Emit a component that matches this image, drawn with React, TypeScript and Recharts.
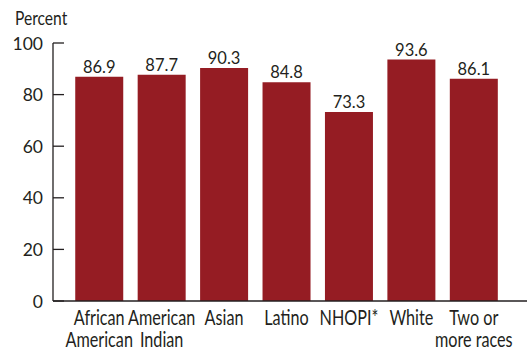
import React from 'react';
import { BarChart, Bar, XAxis, YAxis, LabelList } from 'recharts';

const categories = ['African\nAmerican', 'American\nIndian', 'Asian', 'Latino', 'NHOPI*', 'White', 'Two or\nmore races'];
const percents = [86.9, 87.7, 90.3, 84.8, 73.3, 93.6, 86.1];
const yTicks = [0, 20, 40, 60, 80, 100];

const data = categories.map((name, i) => ({ name, value: percents[i] }));

const FONT = 'Lato, "Liberation Sans", sans-serif';
const INK = '#231f20';
const BAR = '#951c23';

// y tick: label left of axis, short tick pointing into the plot
const YTick = (props: any) => {
  const { x, y, payload } = props;
  return (
    <g>
      <line x1={x + 10} y1={y} x2={x + 21} y2={y} stroke={INK} strokeWidth={1.3} />
      <text x={x} y={y} dy={6.5} textAnchor="end" fontSize={17.5} fontFamily={FONT} fill={INK}>
        {payload.value}
      </text>
    </g>
  );
};

// category labels are set in a tall, narrow face in the source; stretch Lato vertically
const XTick = (props: any) => {
  const { x, y, payload } = props;
  const lines = String(payload.value).split('\n');
  return (
    <g transform={`translate(${x},${y}) scale(1,1.28)`}>
      <text x={0} y={0} textAnchor="middle" fontSize={16.2} fontFamily={FONT} fill={INK}>
        {lines.map((l, i) => (
          <tspan key={i} x={0} dy={i === 0 ? 18.8 : 17.2}>
            {l}
          </tspan>
        ))}
      </text>
    </g>
  );
};

export default function App() {
  return (
    <div style={{ position: 'fixed', left: 0, top: 0, width: 527, height: 350, background: '#fff' }}>
      <BarChart
        width={527}
        height={350}
        data={data}
        margin={{ top: 43, right: 0, left: 0, bottom: 0 }}
        barCategoryGap="11.6%"
      >
        <XAxis
          dataKey="name"
          interval={0}
          height={49}
          tickLine={false}
          tickSize={0}
          tickMargin={0}
          padding={{ left: 15, right: 22 }}
          axisLine={{ stroke: INK, strokeWidth: 1.3 }}
          tick={<XTick />}
        />
        <YAxis
          domain={[0, 100]}
          ticks={yTicks}
          width={53}
          tickLine={false}
          tickSize={0}
          tickMargin={10}
          axisLine={{ stroke: INK, strokeWidth: 1.3 }}
          tick={<YTick />}
        />
        <Bar dataKey="value" fill={BAR} isAnimationActive={false}>
          <LabelList
            dataKey="value"
            position="top"
            offset={4}
            style={{ fontFamily: FONT, fontSize: 16.5, fill: INK }}
            formatter={(v: any) => Number(v).toFixed(1)}
          />
        </Bar>
      </BarChart>
      <svg width={120} height={30} style={{ position: 'absolute', left: 0, top: 0 }}>
        <g transform="translate(15,25) scale(1,1.25)">
          <text x={0} y={0} fontSize={15.6} fontFamily={FONT} fill={INK}>
            Percent
          </text>
        </g>
      </svg>
    </div>
  );
}
